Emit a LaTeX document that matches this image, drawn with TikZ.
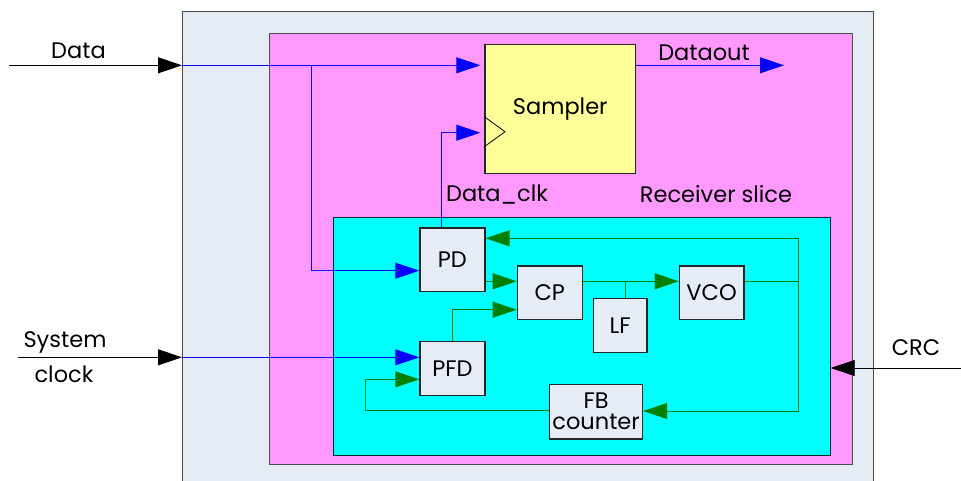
\documentclass[tikz,border=0pt]{standalone}
\usepackage{fontspec}
\setmainfont{Poppins}
\usetikzlibrary{arrows.meta,calc}
\definecolor{panel}{RGB}{230,236,246}
\definecolor{slice}{RGB}{255,153,255}
\definecolor{sampfill}{RGB}{255,255,153}
\definecolor{pllfill}{RGB}{0,255,255}
\definecolor{loopgreen}{RGB}{0,128,0}
\definecolor{sigblue}{RGB}{0,0,255}
\begin{document}
\begin{tikzpicture}[x=1pt,y=-1pt,
  txt/.style={font=\fontsize{22.5}{22}\selectfont},
  container/.style={draw=black!70,line width=1.2pt,anchor=north west,inner sep=0pt},
  blockbox/.style={draw=black!85,line width=1.2pt,fill=panel,anchor=north west,inner sep=0pt,txt},
  head/.style={-{Triangle[length=24pt,width=16pt]}},
  extwire/.style={draw=black,line width=0.9pt,head},
  sigwire/.style={draw=sigblue,line width=0.9pt},
  sigarrow/.style={sigwire,head},
  loopwire/.style={draw=loopgreen,line width=1pt},
  looparrow/.style={loopwire,head},
  lbl/.style={txt,anchor=base,inner sep=0pt}]

\clip (0,0) rectangle (961,480);

% nested frames
\node[container,fill=panel,minimum width=691pt,minimum height=479pt] (board) at (182,11) {};
\node[container,fill=slice,minimum width=582.8pt,minimum height=430.5pt] (rx) at (268.7,33) {};
\node[container,draw=black!70!teal,fill=pllfill,minimum width=496.5pt,minimum height=237.8pt] (pll) at (333,216.7) {};

% sampler with clock pin
\node[blockbox,fill=sampfill,minimum width=150.7pt,minimum height=129.3pt] (sampler) at (484.3,43.7) {Sampler};
\draw[line width=0.8pt] (484.3,116.7) -- (505,131.7) -- (484.3,146.7);

% PLL blocks
\node[blockbox,minimum width=65pt,minimum height=63.7pt] (pd) at (419.3,227.3) {PD};
\node[blockbox,minimum width=65pt,minimum height=53.7pt] (cp) at (516.7,265.3) {CP};
\node[blockbox,minimum width=53.6pt,minimum height=54pt] (lf) at (592.7,297.7) {LF};
\node[blockbox,minimum width=64.6pt,minimum height=53.7pt] (vco) at (678.7,265.3) {VCO};
\node[blockbox,minimum width=65pt,minimum height=54pt] (pfd) at (419.3,341) {PFD};
\node[blockbox,minimum width=93pt,minimum height=54.3pt,align=center,font=\fontsize{22.5}{21}\selectfont] (fb) at (549,384) {FB\\counter};

% labels
\node[lbl] (ldata) at (78.5,58.3) {Data};
\node[lbl] (lsys) at (65,347.3) {System};
\node[lbl] (lclk) at (64,382.7) {clock};
\node[lbl] (ldout) at (704,60.7) {Dataout};
\node[lbl] (ldclk) at (497,201.7) {Data\_clk};
\node[lbl] (lrx) at (716,202.7) {Receiver slice};
\node[lbl] (lcrc) at (916,355) {CRC};

% named wire points
\coordinate (datasrc) at (9,65.3);
\coordinate (tap) at (311.7,65.3);
\coordinate (pdin) at (311.7,270.7);
\coordinate (clkup) at (441.7,132.7);
\coordinate (dout) at (784,65.3);
\coordinate (sysclk) at (18,357.3);
\coordinate (crcsrc) at (961,368);
\coordinate (ret) at (798.3,281.3);
\coordinate (rettop) at (798.3,238.3);
\coordinate (retbot) at (798.3,411);
\coordinate (lftap) at (625,281.3);
\coordinate (pfdup) at (452.3,309.7);
\coordinate (fbl) at (365.3,410);
\coordinate (fblu) at (365.3,379.3);

% external inputs
\draw[extwire] (datasrc) -- (board.west |- datasrc);
\draw[extwire] (sysclk) -- (board.west |- sysclk);
\draw[extwire,line width=0.7pt] (crcsrc) -- (pll.east |- crcsrc);

% data path
\draw[sigarrow,shorten >=4pt] (board.west |- datasrc) -- (sampler.west |- datasrc);
\draw[sigarrow] (tap) -- (pdin) -- (pd.west |- pdin);
\draw[sigarrow,shorten >=4pt] (pd.north -| clkup) |- (sampler.west |- clkup);
\draw[sigarrow] (sampler.east |- dout) -- (dout);
\draw[sigarrow] (board.west |- sysclk) -- (pfd.west |- sysclk);

% PLL loop
\draw[loopwire] (vco.east |- ret) -- (ret);
\draw[looparrow] (rettop) -- (pd.east |- rettop);
\draw[looparrow] (rettop) -- (retbot) -- (fb.east |- retbot);
\draw[looparrow] (pd.east |- ret) -- (cp.west |- ret);
\draw[looparrow] (pfd.north -| pfdup) |- (cp.west |- pfdup);
\draw[looparrow] (cp.east |- ret) -- (vco.west |- ret);
\draw[loopwire] (lftap) -- (lf.north -| lftap);
\draw[looparrow] (fb.west |- fbl) -- (fbl) -- (fblu) -- (pfd.west |- fblu);
\end{tikzpicture}
\end{document}
